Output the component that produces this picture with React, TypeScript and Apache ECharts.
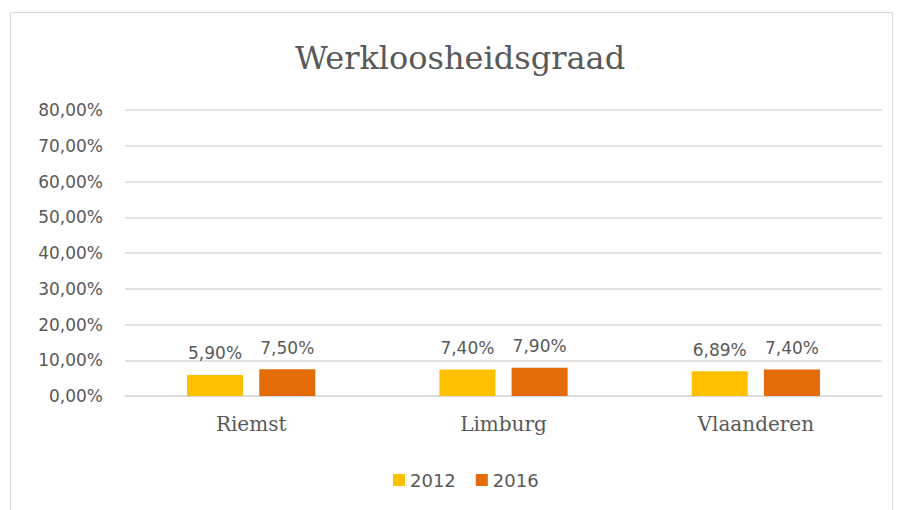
import React, { useEffect, useRef } from "react";
import * as echarts from "echarts";

const categories = ["Riemst", "Limburg", "Vlaanderen"];
const seriesNames = ["2012", "2016"];
const values2012 = [5.9, 7.4, 6.89];
const values2016 = [7.5, 7.9, 7.4];
const colors = ["#FFC000", "#E36C09"];

const fmt = (v: number) => v.toFixed(2).replace(".", ",") + "%";

export default function App() {
  const ref = useRef<HTMLDivElement>(null);
  useEffect(() => {
    const chart = echarts.init(ref.current!, null, { renderer: "svg" });
    const textColor = "#595959";
    const numFont = "'DejaVu Sans', sans-serif";
    const serifFont = "'DejaVu Serif', serif";
    const mkSeries = (name: string, data: number[], color: string) => ({
      name,
      type: "bar",
      data,
      barWidth: 56,
      barGap: "29%",
      itemStyle: { color },
      label: {
        show: true,
        position: "top",
        distance: 13,
        color: textColor,
        fontFamily: numFont,
        fontSize: 17,
        formatter: (p: any) => fmt(p.value),
      },
    });
    chart.setOption({
      animation: false,
      backgroundColor: "#ffffff",
      title: {
        text: "Werkloosheidsgraad",
        left: 455,
        top: 37,
        textAlign: "center",
        textStyle: { color: textColor, fontFamily: serifFont, fontSize: 32, fontWeight: "normal" },
      },
      graphic: [
        {
          type: "rect",
          shape: { x: 10.5, y: 12.5, width: 882, height: 520 },
          style: { fill: "none", stroke: "#d9d9d9", lineWidth: 1 },
          silent: true,
        },
      ],
      legend: {
        data: seriesNames,
        left: 388,
        top: 466,
        itemWidth: 12,
        itemHeight: 12,
        itemGap: 20,
        textStyle: { color: textColor, fontFamily: numFont, fontSize: 18 },
        icon: "rect",
      },
      grid: { left: 125, right: 19, top: 110, bottom: 114, containLabel: false },
      xAxis: {
        type: "category",
        data: categories,
        axisLine: { lineStyle: { color: "#d9d9d9" } },
        axisTick: { show: false },
        axisLabel: { color: textColor, fontFamily: serifFont, fontSize: 20, margin: 18 },
      },
      yAxis: {
        type: "value",
        min: 0,
        max: 80,
        interval: 10,
        axisLine: { show: false },
        axisTick: { show: false },
        splitLine: { lineStyle: { color: "#d9d9d9", width: 1.5 } },
        axisLabel: { color: textColor, fontFamily: numFont, fontSize: 17, margin: 22, formatter: (v: number) => fmt(v) },
      },
      series: [mkSeries(seriesNames[0], values2012, colors[0]), mkSeries(seriesNames[1], values2016, colors[1])],
    });
    return () => chart.dispose();
  }, []);
  return <div ref={ref} style={{ position: "fixed", left: 0, top: 0, width: 901, height: 510 }} />;
}
